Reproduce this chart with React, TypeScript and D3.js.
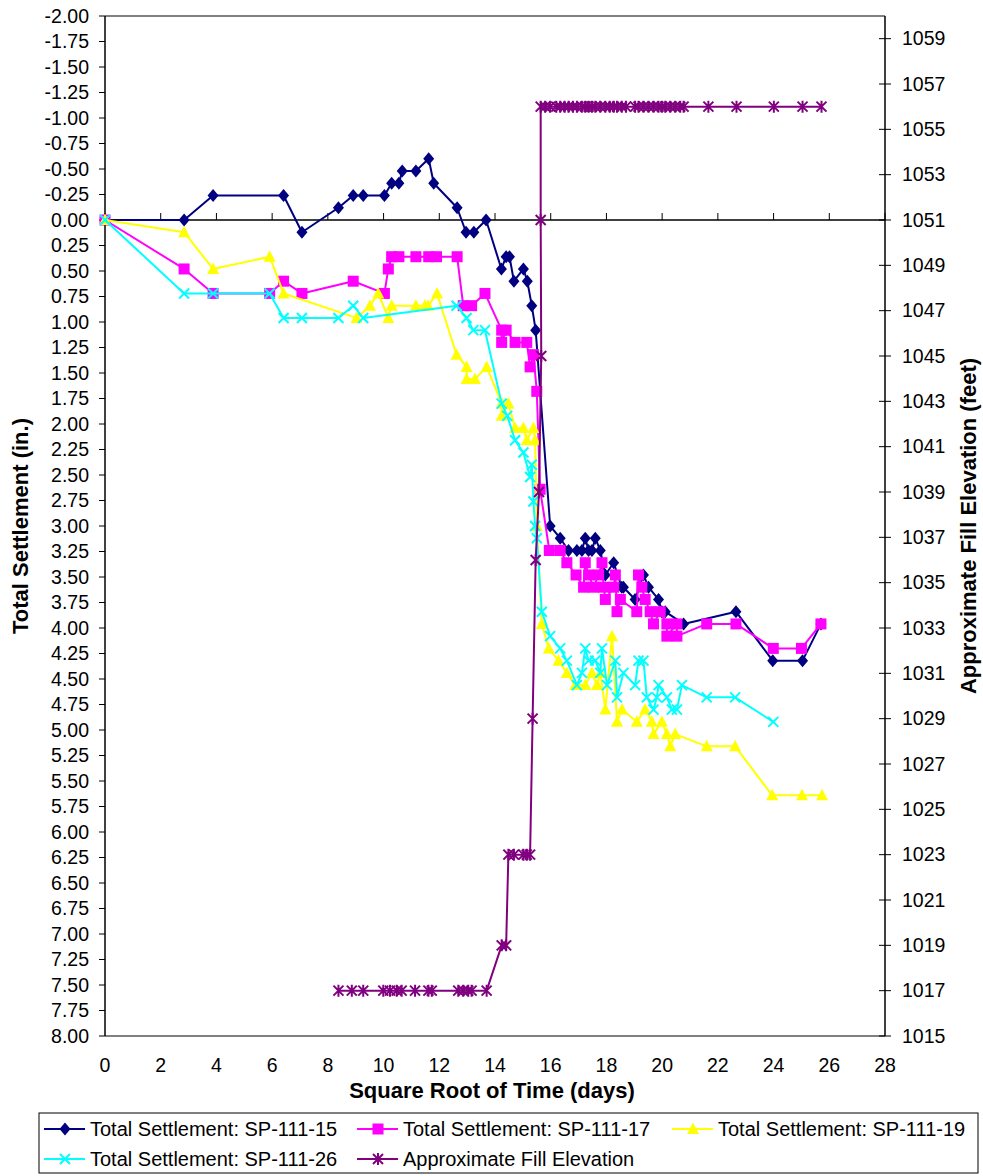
import React from 'react';
import * as d3 from 'd3';

type P = [number, number];

// Square root of time (days) vs total settlement (in.)
const sp15: P[] = [
  [0, 0], [2.84, 0], [3.88, -0.24], [6.41, -0.24], [7.07, 0.12], [8.38, -0.12], [8.91, -0.24], [9.27, -0.24],
  [10.03, -0.24], [10.29, -0.36], [10.55, -0.36], [10.67, -0.48], [11.16, -0.48], [11.62, -0.6], [11.8, -0.36],
  [12.64, -0.12], [12.96, 0.12], [13.24, 0.12], [13.68, 0], [14.23, 0.48], [14.4, 0.36], [14.52, 0.36],
  [14.68, 0.6], [15.02, 0.48], [15.16, 0.6], [15.32, 0.84], [15.46, 1.08], [15.98, 3.0], [16.34, 3.12],
  [16.64, 3.24], [16.94, 3.24], [17.12, 3.24], [17.24, 3.12], [17.36, 3.24], [17.48, 3.24], [17.6, 3.12],
  [17.78, 3.24], [17.96, 3.48], [18.26, 3.36], [18.55, 3.6], [18.61, 3.6], [19.03, 3.72], [19.33, 3.48],
  [19.51, 3.6], [19.87, 3.72], [19.99, 3.84], [20.11, 3.84], [20.77, 3.96], [22.65, 3.84], [23.97, 4.32],
  [25.04, 4.32], [25.7, 3.96],
];

const sp17: P[] = [
  [0, 0], [2.84, 0.48], [3.88, 0.72], [5.91, 0.72], [6.41, 0.6], [7.07, 0.72], [8.91, 0.6], [10.03, 0.72],
  [10.17, 0.48], [10.29, 0.36], [10.55, 0.36], [11.16, 0.36], [11.62, 0.36], [11.9, 0.36], [12.64, 0.36],
  [12.86, 0.84], [13.16, 0.84], [13.64, 0.72], [14.24, 1.08], [14.24, 1.2], [14.4, 1.08], [14.72, 1.2],
  [15.14, 1.2], [15.26, 1.44], [15.38, 1.32], [15.5, 1.68], [15.62, 2.64], [15.95, 3.24], [16.34, 3.24],
  [16.58, 3.36], [16.91, 3.48], [17.18, 3.6], [17.24, 3.36], [17.36, 3.48], [17.54, 3.6], [17.72, 3.48],
  [17.84, 3.36], [17.9, 3.6], [17.96, 3.72], [18.26, 3.6], [18.32, 3.48], [18.38, 3.84], [18.5, 3.72],
  [19.09, 3.84], [19.15, 3.48], [19.27, 3.6], [19.39, 3.72], [19.57, 3.84], [19.69, 3.96], [19.93, 3.84],
  [20.17, 3.96], [20.17, 4.08], [20.53, 3.96], [20.53, 4.08], [21.6, 3.96], [22.65, 3.96], [23.99, 4.2],
  [25.0, 4.2], [25.7, 3.96],
];

const sp19: P[] = [
  [0, 0], [2.84, 0.12], [3.88, 0.48], [5.91, 0.36], [6.41, 0.72], [9.03, 0.96], [9.51, 0.84], [9.81, 0.72],
  [10.17, 0.96], [10.29, 0.84], [11.16, 0.84], [11.48, 0.84], [11.6, 0.84], [11.92, 0.72], [12.62, 1.32],
  [12.98, 1.44], [12.98, 1.56], [13.28, 1.56], [13.7, 1.44], [14.24, 1.8], [14.24, 1.92], [14.48, 1.8],
  [14.72, 2.04], [15.02, 2.04], [15.14, 2.16], [15.38, 2.04], [15.44, 2.16], [15.5, 3.0], [15.68, 3.96],
  [15.93, 4.2], [16.28, 4.32], [16.58, 4.44], [16.88, 4.56], [17.24, 4.56], [17.48, 4.44], [17.66, 4.56],
  [17.78, 4.44], [17.96, 4.8], [18.2, 4.08], [18.38, 4.92], [18.56, 4.8], [19.09, 4.92], [19.39, 4.8],
  [19.63, 4.92], [19.69, 5.04], [19.99, 4.92], [20.17, 5.04], [20.29, 5.16], [20.47, 5.04], [21.6, 5.16],
  [22.62, 5.16], [23.95, 5.64], [25.02, 5.64], [25.74, 5.64],
];

const sp26: P[] = [
  [0, 0], [2.84, 0.72], [3.88, 0.72], [5.91, 0.72], [6.41, 0.96], [7.07, 0.96], [8.38, 0.96], [8.91, 0.84],
  [9.27, 0.96], [12.62, 0.84], [12.98, 0.96], [13.22, 1.08], [13.64, 1.08], [14.24, 1.8], [14.44, 1.92],
  [14.72, 2.16], [15.02, 2.28], [15.26, 2.52], [15.32, 2.4], [15.38, 2.76], [15.44, 3.0], [15.5, 3.12],
  [15.68, 3.84], [15.98, 4.08], [16.34, 4.2], [16.58, 4.32], [16.94, 4.56], [17.12, 4.44], [17.24, 4.2],
  [17.36, 4.32], [17.6, 4.32], [17.78, 4.44], [17.84, 4.2], [18.02, 4.56], [18.32, 4.32], [18.38, 4.68],
  [18.61, 4.44], [19.03, 4.56], [19.15, 4.32], [19.33, 4.32], [19.45, 4.68], [19.69, 4.8], [19.81, 4.68],
  [19.87, 4.56], [20.17, 4.68], [20.35, 4.8], [20.53, 4.8], [20.71, 4.56], [21.6, 4.68], [22.62, 4.68],
  [23.99, 4.92],
];

// Square root of time (days) vs approximate fill elevation (feet)
const fill: P[] = [
  [8.38, 1017], [8.86, 1017], [9.27, 1017], [9.99, 1017], [10.23, 1017], [10.47, 1017], [10.65, 1017],
  [11.13, 1017], [11.61, 1017], [11.73, 1017], [12.68, 1017], [12.86, 1017], [13.04, 1017], [13.16, 1017],
  [13.7, 1017], [14.24, 1019], [14.4, 1019], [14.48, 1023], [14.68, 1023], [15.02, 1023], [15.14, 1023],
  [15.26, 1023], [15.35, 1029], [15.46, 1036], [15.58, 1039], [15.66, 1045], [15.64, 1051], [15.64, 1056],
  [15.8, 1056], [15.98, 1056], [16.2, 1056], [16.34, 1056], [16.5, 1056], [16.64, 1056], [16.8, 1056],
  [16.94, 1056], [17.12, 1056], [17.24, 1056], [17.36, 1056], [17.48, 1056], [17.6, 1056], [17.78, 1056],
  [17.96, 1056], [18.12, 1056], [18.26, 1056], [18.38, 1056], [18.55, 1056], [18.7, 1056], [19.03, 1056],
  [19.15, 1056], [19.33, 1056], [19.51, 1056], [19.69, 1056], [19.87, 1056], [19.99, 1056], [20.11, 1056],
  [20.29, 1056], [20.47, 1056], [20.65, 1056], [20.77, 1056], [21.66, 1056], [22.67, 1056], [24.01, 1056],
  [25.04, 1056], [25.72, 1056],
];

const xTicks = [0, 2, 4, 6, 8, 10, 12, 14, 16, 18, 20, 22, 24, 26, 28];
const leftTicks = [
  -2, -1.75, -1.5, -1.25, -1, -0.75, -0.5, -0.25, 0, 0.25, 0.5, 0.75, 1, 1.25, 1.5, 1.75, 2, 2.25, 2.5, 2.75,
  3, 3.25, 3.5, 3.75, 4, 4.25, 4.5, 4.75, 5, 5.25, 5.5, 5.75, 6, 6.25, 6.5, 6.75, 7, 7.25, 7.5, 7.75, 8,
];
const rightTicks = [1015, 1017, 1019, 1021, 1023, 1025, 1027, 1029, 1031, 1033, 1035, 1037, 1039, 1041, 1043,
  1045, 1047, 1049, 1051, 1053, 1055, 1057, 1059];

const seriesNames = [
  'Total Settlement: SP-111-15',
  'Total Settlement: SP-111-17',
  'Total Settlement: SP-111-19',
  'Total Settlement: SP-111-26',
  'Approximate Fill Elevation',
];

const FONT = '"Liberation Sans", Arial, sans-serif';

type Kind = 'diamond' | 'square' | 'triangle' | 'x' | 'star';

function Marker({ kind, cx, cy, color }: { kind: Kind; cx: number; cy: number; color: string }) {
  if (kind === 'diamond')
    return <polygon points={`${cx},${cy - 6.5} ${cx + 5.5},${cy} ${cx},${cy + 6.5} ${cx - 5.5},${cy}`} fill={color} />;
  if (kind === 'square') return <rect x={cx - 5.5} y={cy - 5.5} width={11} height={11} fill={color} />;
  if (kind === 'triangle')
    return <polygon points={`${cx},${cy - 6.5} ${cx + 6},${cy + 5} ${cx - 6},${cy + 5}`} fill={color} />;
  if (kind === 'x')
    return (
      <path d={`M${cx - 5},${cy - 5}L${cx + 5},${cy + 5}M${cx + 5},${cy - 5}L${cx - 5},${cy + 5}`} stroke={color} strokeWidth={2} fill="none" />
    );
  return (
    <path
      d={`M${cx - 5},${cy - 5}L${cx + 5},${cy + 5}M${cx + 5},${cy - 5}L${cx - 5},${cy + 5}M${cx},${cy - 6}L${cx},${cy + 6}`}
      stroke={color}
      strokeWidth={2}
      fill="none"
    />
  );
}

export default function App() {
  React.useEffect(() => {
    document.body.style.margin = '0';
  }, []);

  const L = 105, R = 885, T = 16, B = 1036;
  const x = d3.scaleLinear().domain([0, 28]).range([L, R]);
  const yL = d3.scaleLinear().domain([-2, 8]).range([T, B]);
  const yR = d3.scaleLinear().domain([1015, 1060]).range([B, T]);
  const y0 = yL(0);

  const leftSeries: { data: P[]; color: string; kind: Kind }[] = [
    { data: sp15, color: '#000080', kind: 'diamond' },
    { data: sp17, color: '#FF00FF', kind: 'square' },
    { data: sp19, color: '#FFFF00', kind: 'triangle' },
    { data: sp26, color: '#00FFFF', kind: 'x' },
  ];
  const lineL = d3.line<P>().x((d) => x(d[0])).y((d) => yL(d[1]));
  const lineR = d3.line<P>().x((d) => x(d[0])).y((d) => yR(d[1]));

  const legendItems = [
    { name: seriesNames[0], color: '#000080', kind: 'diamond' as Kind, lx: 44, ly: 1129 },
    { name: seriesNames[1], color: '#FF00FF', kind: 'square' as Kind, lx: 357, ly: 1129 },
    { name: seriesNames[2], color: '#FFFF00', kind: 'triangle' as Kind, lx: 672, ly: 1129 },
    { name: seriesNames[3], color: '#00FFFF', kind: 'x' as Kind, lx: 44, ly: 1159 },
    { name: seriesNames[4], color: '#800080', kind: 'star' as Kind, lx: 357, ly: 1159 },
  ];

  return (
    <svg
      width={983}
      height={1176}
      style={{ position: 'absolute', left: 0, top: 0, display: 'block', background: '#fff' }}
      fontFamily={FONT}
    >
      <rect x={0} y={0} width={983} height={1176} fill="#fff" />
      {/* plot area border */}
      <line x1={L} x2={R} y1={T} y2={T} stroke="#808080" strokeWidth={2} />
      <line x1={L} x2={R} y1={B} y2={B} stroke="#808080" strokeWidth={2} />

      {/* left axis */}
      <line x1={L} x2={L} y1={T} y2={B} stroke="#000" strokeWidth={1.5} />
      {leftTicks.map((t) => (
        <g key={'l' + t}>
          <line x1={L - 6} x2={L} y1={yL(t)} y2={yL(t)} stroke="#000" strokeWidth={1} />
          <text x={89} y={yL(t)} dy="0.35em" textAnchor="end" fontSize={19.5} fill="#000">
            {t.toFixed(2)}
          </text>
        </g>
      ))}

      {/* right axis */}
      <line x1={R} x2={R} y1={T} y2={B} stroke="#000" strokeWidth={1.5} />
      {rightTicks.map((t) => (
        <g key={'r' + t}>
          <line x1={R - 6} x2={R + 6} y1={yR(t)} y2={yR(t)} stroke="#000" strokeWidth={1} />
          <text x={902} y={yR(t)} dy="0.35em" textAnchor="start" fontSize={19.5} fill="#000">
            {t}
          </text>
        </g>
      ))}

      {/* x axis at 0 */}
      <line x1={L} x2={R} y1={y0} y2={y0} stroke="#000" strokeWidth={1.5} />
      {xTicks.map((t) => (
        <g key={'x' + t}>
          <line x1={x(t)} x2={x(t)} y1={y0 - 7} y2={y0} stroke="#000" strokeWidth={1} />
          <text x={x(t)} y={1065} dy="0.35em" textAnchor="middle" fontSize={19.5} fill="#000">
            {t}
          </text>
        </g>
      ))}

      {/* series */}
      {leftSeries.map((s, i) => (
        <g key={'s' + i}>
          <path d={lineL(s.data) || ''} fill="none" stroke={s.color} strokeWidth={2} strokeLinejoin="round" />
          {s.data.map((d, j) => (
            <Marker key={j} kind={s.kind} cx={x(d[0])} cy={yL(d[1])} color={s.color} />
          ))}
        </g>
      ))}
      <g>
        <path d={lineR(fill) || ''} fill="none" stroke="#800080" strokeWidth={2} strokeLinejoin="round" />
        {fill.map((d, j) => (
          <Marker key={j} kind="star" cx={x(d[0])} cy={yR(d[1])} color="#800080" />
        ))}
      </g>

      {/* axis titles */}
      <text x={492} y={1090} dy="0.35em" textAnchor="middle" fontSize={22} fontWeight="bold" fill="#000">
        Square Root of Time (days)
      </text>
      <text
        transform={`translate(20,${(T + B) / 2}) rotate(-90)`}
        dy="0.35em"
        textAnchor="middle"
        fontSize={22}
        fontWeight="bold"
        fill="#000"
      >
        Total Settlement (in.)
      </text>
      <text
        transform={`translate(968,${(T + B) / 2}) rotate(-90)`}
        dy="0.35em"
        textAnchor="middle"
        fontSize={22}
        fontWeight="bold"
        fill="#000"
      >
        Approximate Fill Elevation (feet)
      </text>

      {/* legend */}
      <rect x={39} y={1113} width={939} height={60} fill="#fff" stroke="#000" strokeWidth={1} />
      {legendItems.map((it, i) => (
        <g key={'lg' + i}>
          <line x1={it.lx} x2={it.lx + 41} y1={it.ly} y2={it.ly} stroke={it.color} strokeWidth={2} />
          <Marker kind={it.kind} cx={it.lx + 21} cy={it.ly} color={it.color} />
          <text x={it.lx + 46} y={it.ly} dy="0.35em" fontSize={20} fill="#000">
            {it.name}
          </text>
        </g>
      ))}
    </svg>
  );
}
